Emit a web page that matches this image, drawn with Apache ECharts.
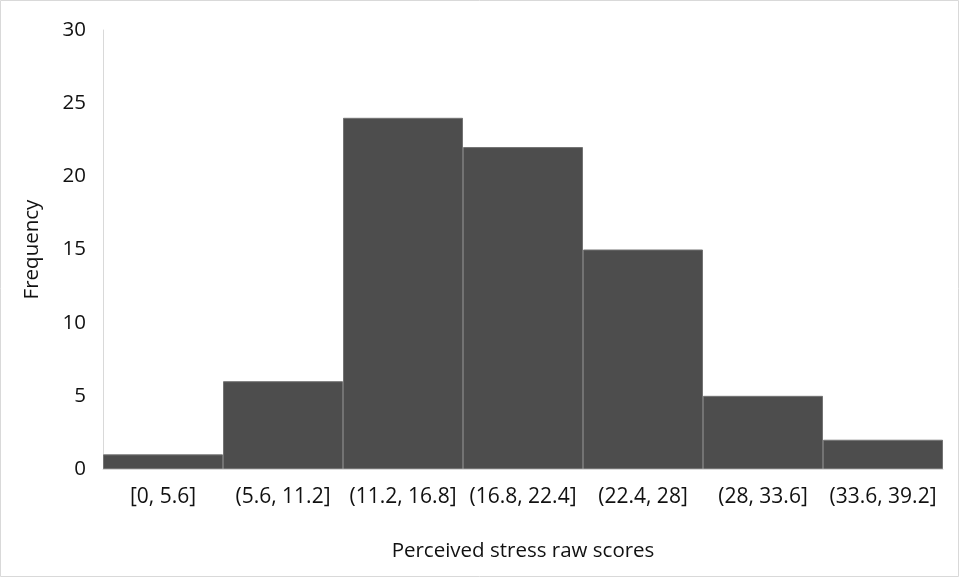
<!DOCTYPE html>
<html><head><meta charset="utf-8">
<script src="https://cdn.jsdelivr.net/npm/echarts@6/dist/echarts.min.js"></script>
<style>html,body{margin:0;padding:0;background:#fff}#c{width:961px;height:578px}</style>
</head><body><div id="c"></div>
<script>
const categories = ['[0, 5.6]','(5.6, 11.2]','(11.2, 16.8]','(16.8, 22.4]','(22.4, 28]','(28, 33.6]','(33.6, 39.2]'];
const frequencies = [1, 6, 24, 22, 15, 5, 2];
const yTicks = {min: 0, max: 30, interval: 5};
const font = '"Open Sans", "Noto Sans", sans-serif';
const chart = echarts.init(document.getElementById('c'), null, {renderer: 'canvas'});
chart.setOption({
  animation: false,
  backgroundColor: '#fff',
  grid: {left: 103, right: 18, top: 30, bottom: 109, containLabel: false},
  xAxis: {
    type: 'category', data: categories,
    name: 'Perceived stress raw scores', nameLocation: 'middle', nameGap: 72,
    nameTextStyle: {fontFamily: font, fontSize: 20.5, color: '#111'},
    axisLine: {show: true, lineStyle: {color: '#d9d9d9', width: 1}},
    axisTick: {show: false},
    axisLabel: {fontFamily: font, fontSize: 21, color: '#111', margin: 18, interval: 0}
  },
  yAxis: {
    type: 'value', min: yTicks.min, max: yTicks.max, interval: yTicks.interval,
    name: 'Frequency', nameLocation: 'middle', nameGap: 60, nameRotate: 90,
    nameTextStyle: {fontFamily: font, fontSize: 20.5, color: '#111'},
    axisLine: {show: true, lineStyle: {color: '#d9d9d9', width: 1}},
    axisTick: {show: false},
    splitLine: {show: false},
    axisLabel: {fontFamily: font, fontSize: 20.5, color: '#111', margin: 17}
  },
  series: [{
    type: 'bar', data: frequencies, barCategoryGap: '0%',
    itemStyle: {color: '#4d4d4d', borderColor: '#737373', borderWidth: 1}
  }],
  graphic: [{
    type: 'rect', shape: {x: 0.5, y: 0.5, width: 958, height: 576},
    style: {fill: 'none', stroke: '#d9d9d9', lineWidth: 1}, silent: true
  }]
});
</script></body></html>
